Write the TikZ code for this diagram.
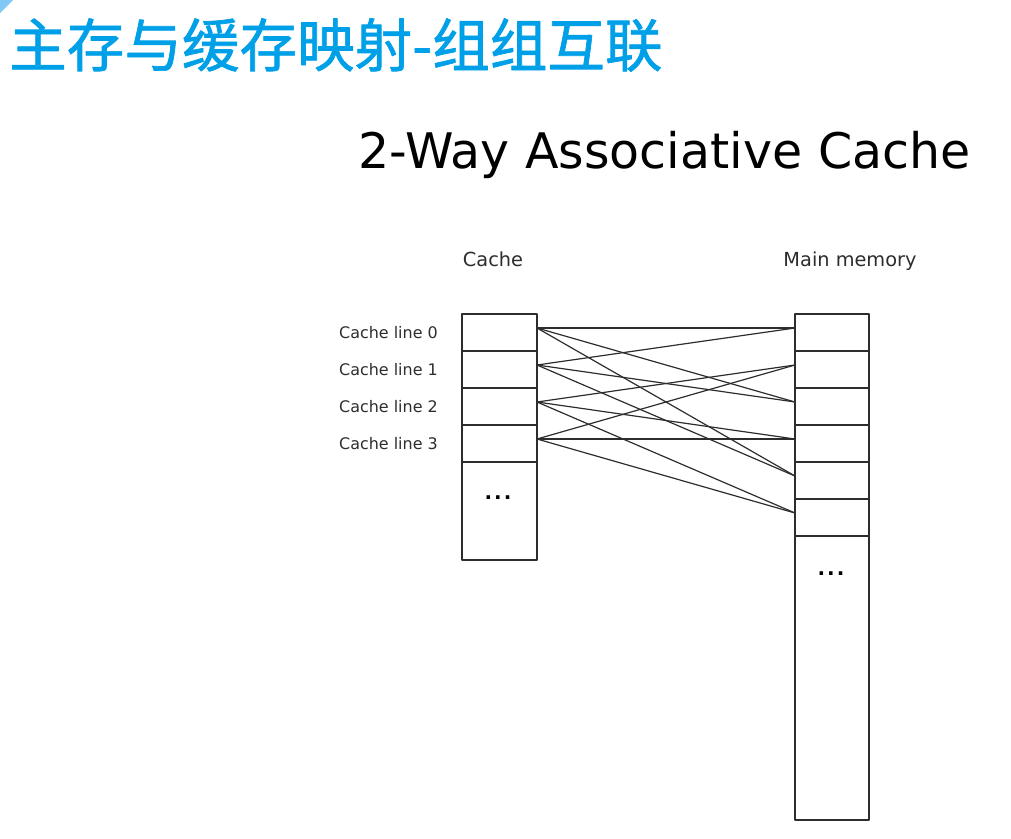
\documentclass[tikz,border=0pt]{standalone}
\usepackage{fontspec}
\setmainfont{DejaVu Sans}
\newfontfamily\cjk[FakeBold=1.2]{Noto Sans CJK SC}
\usetikzlibrary{positioning}
\definecolor{titleblue}{RGB}{0,160,232}
\definecolor{cornerblue}{RGB}{130,200,245}
\definecolor{inkgray}{RGB}{45,45,45}
\begin{document}
\begin{tikzpicture}[x=1bp,y=-1bp,line join=round,
	cell/.style={draw=inkgray,line width=1.3bp,inner sep=0pt,outer sep=0pt},
	link/.style={draw=inkgray,line width=1.2bp},
	linelbl/.style={text=inkgray,inner sep=0pt,font=\fontsize{16}{18}\selectfont},
	head/.style={text=inkgray,inner sep=0pt,anchor=base,font=\fontsize{19.4}{22}\selectfont},
	dotlbl/.style={text=black,inner sep=0pt,font=\bfseries\fontsize{20}{24}\selectfont}]
	\useasboundingbox (0,0) rectangle (1011,839);
	
	% corner and titles
	\fill[cornerblue] (0,0)--(13,0)--(0,13)--cycle;
	\node[anchor=west,inner sep=0pt,text=titleblue,font=\cjk\fontsize{57.8}{60}\selectfont] (cntitle) at (9,45) {主存与缓存映射-组组互联};
	\node[anchor=base,inner sep=0pt,font=\fontsize{49.2}{52}\selectfont] (entitle) at (664.5,168) {2-Way Associative Cache};
	
	\node[head] (cachehead) at (493,266) {Cache};
	\node[head] (memhead) at (850,266) {Main memory};
	
	% cache lines
	\foreach \i in {0,...,3}{
		\node[cell,minimum width=75bp,minimum height=37bp] (c\i) at (499.5,{332.5+37*\i}) {};
		\node[linelbl,left=24bp of c\i] (cl\i) {Cache line \i};
	}
	\node[cell,minimum width=75bp,minimum height=98bp,below=0pt of c3] (crest) {};
	\node[dotlbl] (cdots) at (498,498) {.\kern2bp.\kern2bp.};
	
	% main memory blocks
	\foreach \i in {0,...,5}{
		\node[cell,minimum width=74bp,minimum height=37bp] (m\i) at (832,{332.5+37*\i}) {};
	}
	\node[cell,minimum width=74bp,minimum height=284bp,below=0pt of m5] (mrest) {};
	\node[dotlbl] (mdots) at (831,574) {.\kern2bp.\kern2bp.};
	
	% 2-way mapping
	\foreach \c/\m in {0/0,0/2,0/4,1/0,1/2,1/4,2/1,2/3,2/5,3/1,3/3,3/5}{
		\draw[link] ([yshift=4.5bp]c\c.east)--([yshift=4.5bp]m\m.west);
	}
\end{tikzpicture}
\end{document}
